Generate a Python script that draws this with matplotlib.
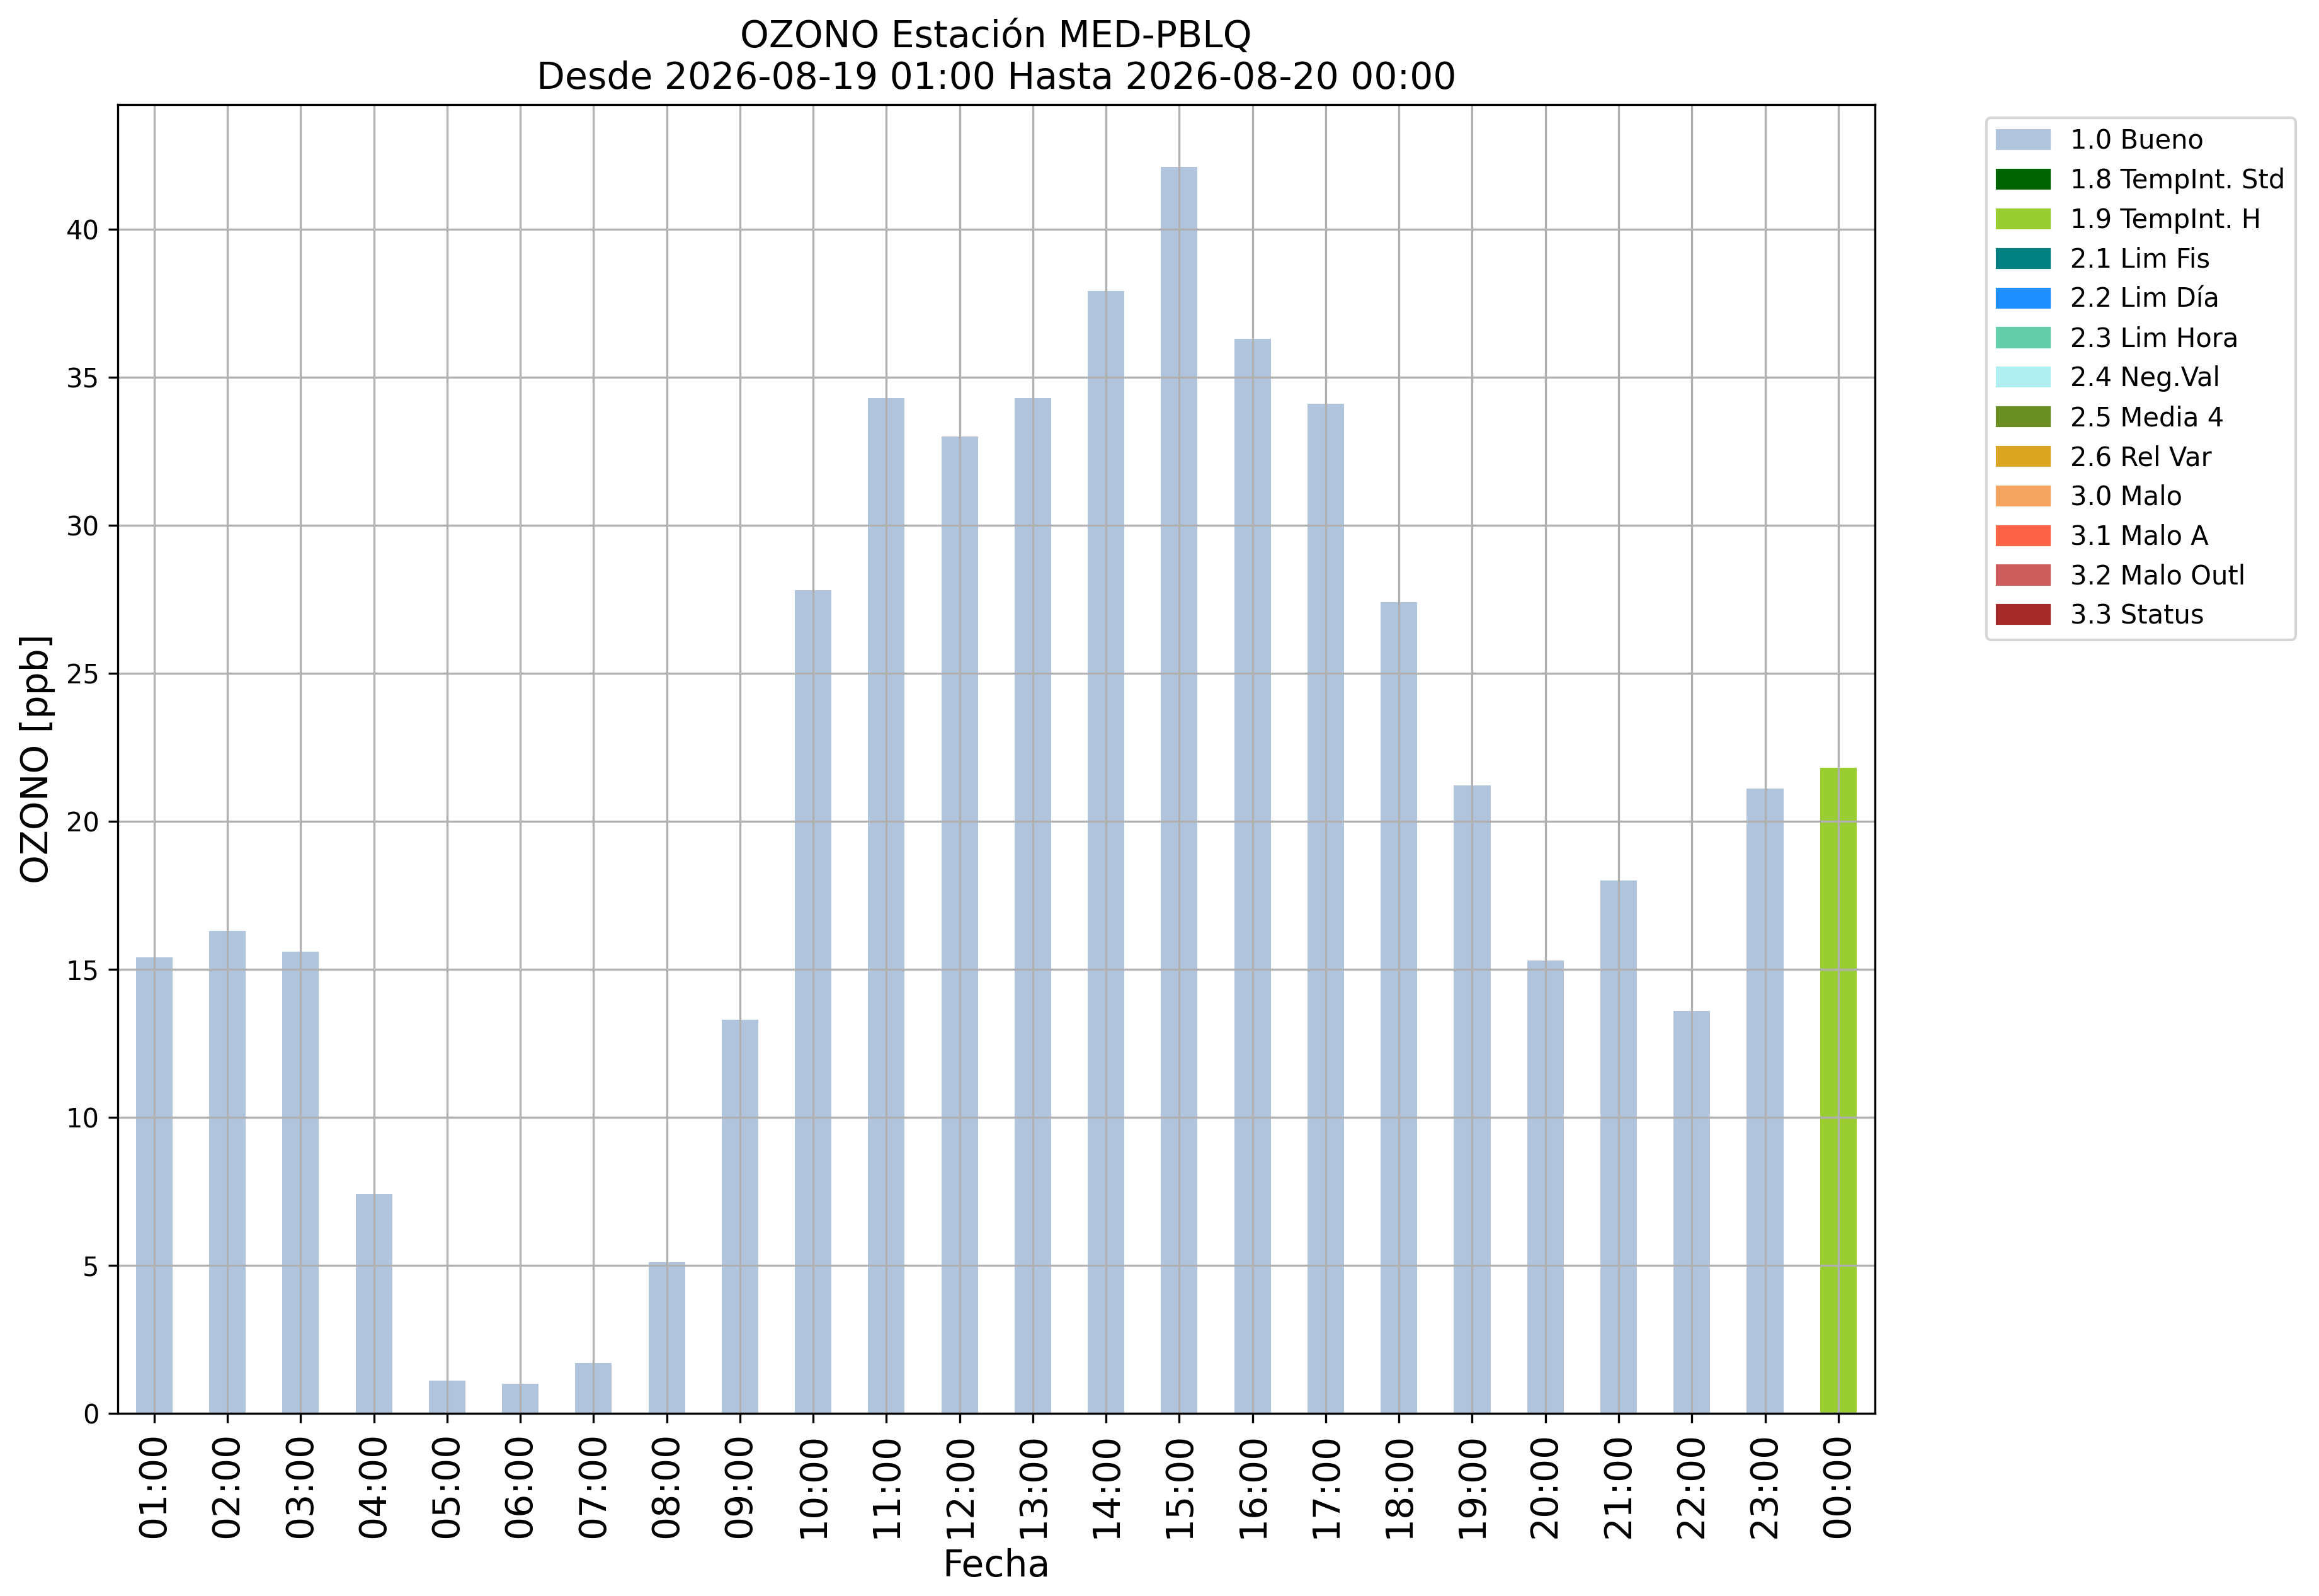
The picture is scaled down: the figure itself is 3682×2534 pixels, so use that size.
import numpy as np
import matplotlib.pyplot as plt
from matplotlib.patches import Patch

# hourly ozone values and their quality flag
horas = ["01:00", "02:00", "03:00", "04:00", "05:00", "06:00", "07:00", "08:00",
         "09:00", "10:00", "11:00", "12:00", "13:00", "14:00", "15:00", "16:00",
         "17:00", "18:00", "19:00", "20:00", "21:00", "22:00", "23:00", "00:00"]
ozono = [15.4, 16.3, 15.6, 7.4, 1.1, 1.0, 1.7, 5.1, 13.3, 27.8, 34.3, 33.0,
         34.3, 37.9, 42.1, 36.3, 34.1, 27.4, 21.2, 15.3, 18.0, 13.6, 21.1, 21.8]
flags = ["1.0 Bueno"] * 23 + ["1.9 TempInt. H"]

# flag categories and colors
categorias = ["1.0 Bueno", "1.8 TempInt. Std", "1.9 TempInt. H", "2.1 Lim Fis",
              "2.2 Lim Día", "2.3 Lim Hora", "2.4 Neg.Val", "2.5 Media 4",
              "2.6 Rel Var", "3.0 Malo", "3.1 Malo A", "3.2 Malo Outl", "3.3 Status"]
colores = ["lightsteelblue", "darkgreen", "yellowgreen", "teal", "dodgerblue",
           "mediumaquamarine", "paleturquoise", "olivedrab", "goldenrod",
           "sandybrown", "tomato", "indianred", "brown"]
color_map = dict(zip(categorias, colores))

fig = plt.figure(figsize=(3682 / 300, 2534 / 300), dpi=300)
ax = fig.add_axes([0.0507, 0.1144, 0.7578, 0.8201])

x = np.arange(len(horas))
ax.bar(x, ozono, width=0.5, color=[color_map[f] for f in flags])
ax.set_xlim(-0.5, len(horas) - 0.5)
ax.set_xticks(x)
ax.set_xticklabels(horas, rotation=90, fontsize=14)
ax.tick_params(axis="y", labelsize=10)
ax.grid(True)

ax.set_xlabel("Fecha", fontsize=14)
ax.set_ylabel("OZONO [ppb]", fontsize=14)
ax.set_title("OZONO Estación MED-PBLQ\nDesde 2026-08-19 01:00 Hasta 2026-08-20 00:00",
             fontsize=14)

handles = [Patch(color=c, label=l) for l, c in zip(categorias, colores)]
ax.legend(handles=handles, bbox_to_anchor=(1.056, 1), loc="upper left", fontsize=10)

fig.savefig("out.png", dpi=300)
